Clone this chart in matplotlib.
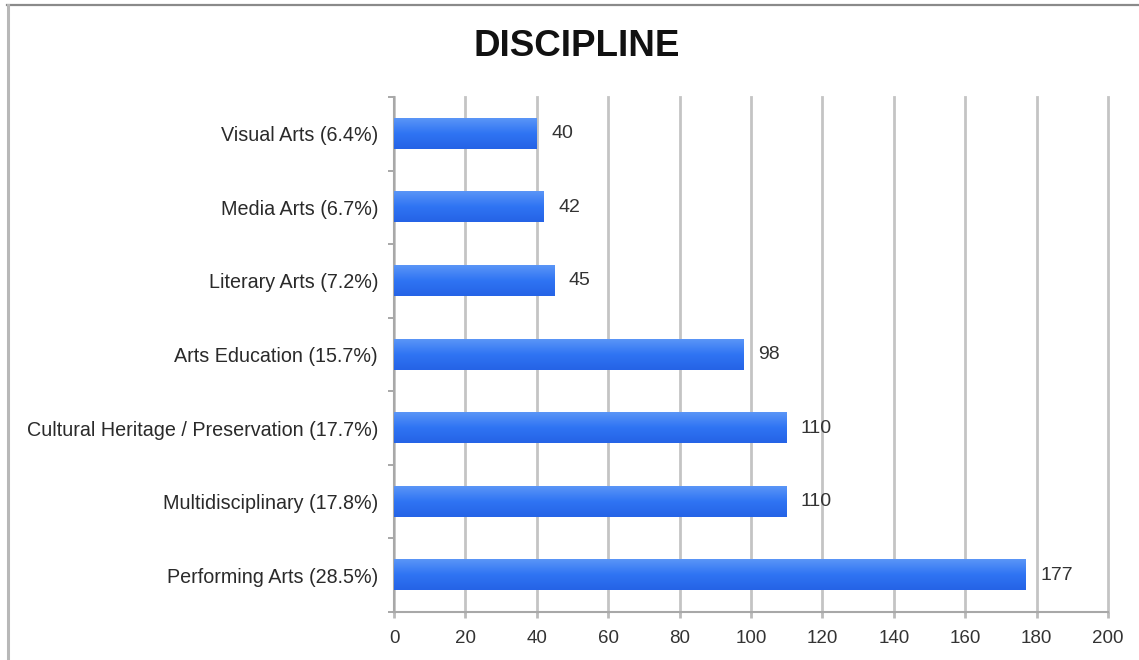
import matplotlib
matplotlib.use("Agg")
import matplotlib.pyplot as plt
import numpy as np
from matplotlib.lines import Line2D
from matplotlib.colors import LinearSegmentedColormap

categories = ["Performing Arts (28.5%)", "Multidisciplinary (17.8%)",
              "Cultural Heritage / Preservation (17.7%)", "Arts Education (15.7%)",
              "Literary Arts (7.2%)", "Media Arts (6.7%)", "Visual Arts (6.4%)"]
values = [177, 110, 110, 98, 45, 42, 40]
xticks = [0, 20, 40, 60, 80, 100, 120, 140, 160, 180, 200]
title = "DISCIPLINE"

plt.rcParams['font.family'] = ['Liberation Sans', 'DejaVu Sans']

fig = plt.figure(figsize=(11.39, 6.6), dpi=100)
ax = fig.add_axes([394/1139, 1-612/660, (1108-394)/1139, (612-97)/660])

ypos = np.arange(len(categories))
bh = 0.41
bars = ax.barh(ypos, values, height=bh, color="#2b6ff0", zorder=3)

# vertical gradient overlay on each bar (light top, darker bottom)
grad = np.linspace(0, 1, 64).reshape(-1, 1)
cmap = LinearSegmentedColormap.from_list("g", ["#5a95f7", "#2f74f3", "#2563e6"])
for b in bars:
    x0, y0 = b.get_x(), b.get_y()
    w, h = b.get_width(), b.get_height()
    ax.imshow(grad, cmap=cmap, aspect="auto", origin="upper",
              extent=[x0, x0 + w, y0, y0 + h], zorder=4)

for y, v in zip(ypos, values):
    ax.text(v + 4, y, str(v), va="center", ha="left", fontsize=14, color="#333333", zorder=5)

ax.set_xlim(0, 200)
ax.set_ylim(-0.5, len(categories) - 0.5)
ax.set_xticks(xticks)
ax.set_xticklabels([str(t) for t in xticks], fontsize=13.5, color="#333333")
ax.set_yticks(ypos)
ax.set_yticklabels(categories, fontsize=14.2, color="#2a2a2a")
ax.set_yticks(np.arange(-0.5, len(categories), 1.0), minor=True)
ax.tick_params(axis="y", which="major", length=0, pad=11.5)
ax.tick_params(axis="y", which="minor", length=4, direction="out", color="#999999", width=1.2)
ax.tick_params(axis="x", which="major", length=4, direction="out", color="#bbbbbb", width=2, pad=9)

ax.grid(axis="x", color="#c4c4c4", linewidth=2, zorder=1)
for gl in ax.get_xgridlines():
    gl.set_clip_on(False)
ax.set_axisbelow(True)
for s in ["top", "right"]:
    ax.spines[s].set_visible(False)
for s in ["left", "bottom"]:
    ax.spines[s].set_color("#a8a8a8")
    ax.spines[s].set_linewidth(1.5)
    ax.spines[s].set_zorder(2)

fig.text(577/1139, 1-47/660, title, ha="center", va="center", fontsize=26.5, fontweight="bold", color="#111111")

# outer frame lines (top and left)
fig.add_artist(Line2D([7/1139, 1], [1-4.5/660, 1-4.5/660], transform=fig.transFigure, color="#8a8a8a", linewidth=1.6))
fig.add_artist(Line2D([7.5/1139, 7.5/1139], [0, 1-4.5/660], transform=fig.transFigure, color="#b8b8b8", linewidth=2.2))

fig.savefig("out.png", dpi=100)
